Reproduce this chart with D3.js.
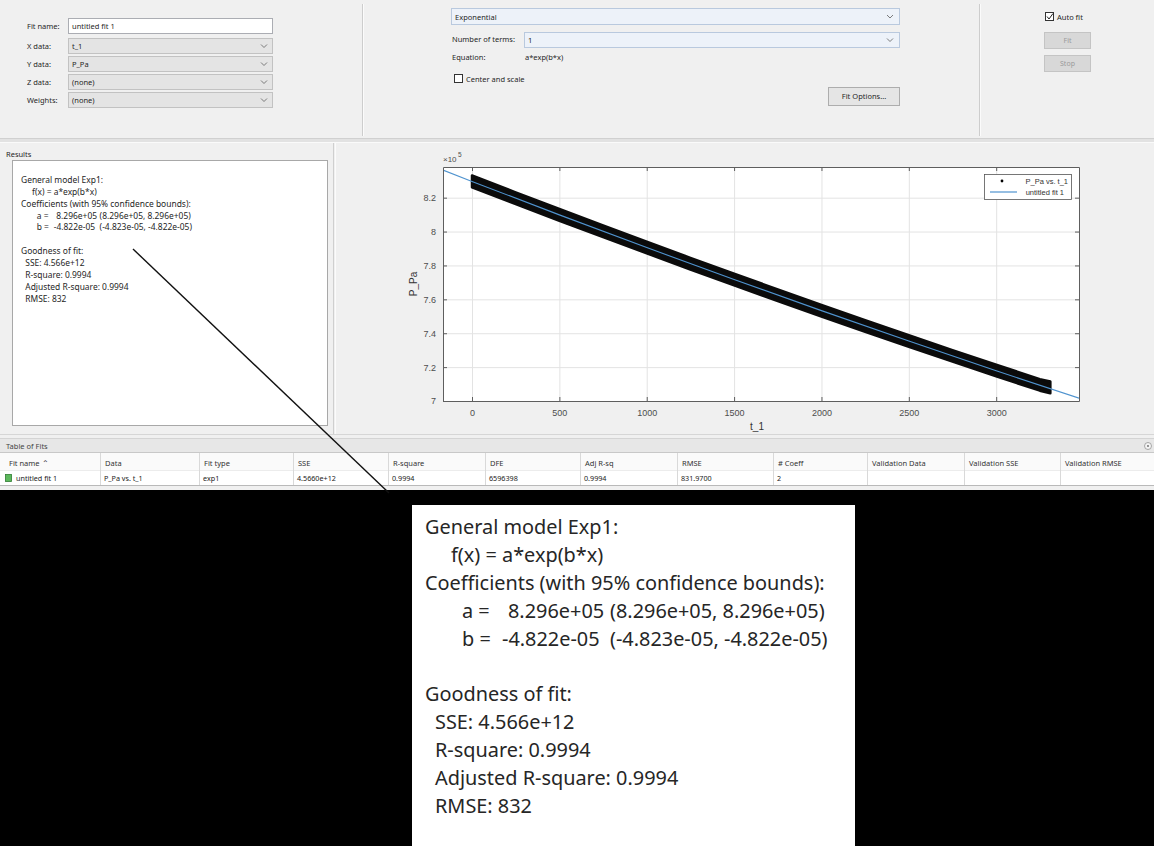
<!DOCTYPE html>
<html><head><meta charset="utf-8">
<script src="https://cdn.jsdelivr.net/npm/d3@7"></script>
<style>body{margin:0;background:#000;} svg{display:block}</style>
</head><body><svg id="c" width="1154" height="846"></svg>
<script>
const uiFont = "'Noto Sans','Open Sans',sans-serif";
const plotFont = "'Liberation Sans',Arial,sans-serif";

// ---------------- data ----------------
const tTicks = [0, 500, 1000, 1500, 2000, 2500, 3000];
const pTicks = [7, 7.2, 7.4, 7.6, 7.8, 8, 8.2];           // x10^5 Pa
const tDomain = [-166, 3474];
const pDomain = [7.0, 8.381];
// envelope of the dense scatter band (P_Pa vs. t_1)
const tData      = [0, 250, 500, 750, 1000, 1250, 1500, 1750, 2000, 2250, 2500, 2750, 3000, 3250, 3310];
const pDataUpper = [8.331, 8.231, 8.133, 8.036, 7.940, 7.845, 7.751, 7.659, 7.567, 7.477, 7.388, 7.300, 7.214, 7.129, 7.115];
const pDataLower = [8.261, 8.162, 8.064, 7.967, 7.871, 7.776, 7.683, 7.590, 7.499, 7.409, 7.320, 7.232, 7.145, 7.061, 7.046];
// fitted curve "untitled fit 1"
const tFit = [-166, 0, 500, 1000, 1500, 2000, 2500, 3000, 3474];
const pFit = [8.3627, 8.296, 8.0984, 7.9054, 7.7172, 7.5333, 7.3538, 7.1787, 7.0165];
const legendLabels = ["P_Pa vs. t_1", "untitled fit 1"];

const formLabels = ["Fit name:", "X data:", "Y data:", "Z data:", "Weights:"];
const formValues = ["untitled fit 1", "t_1", "P_Pa", "(none)", "(none)"];

const resultLines = [
  {t:"General model Exp1:", x:0},
  {t:"f(x) = a*exp(b*x)", x:26},
  {t:"Coefficients (with 95% confidence bounds):", x:0},
  null, null, null,
  {t:"Goodness of fit:", x:0},
  {t:"SSE: 4.566e+12", x:10},
  {t:"R-square: 0.9994", x:10},
  {t:"Adjusted R-square: 0.9994", x:10},
  {t:"RMSE: 832", x:10}
];
const coefRows = [
  {name:"a =", val:"8.296e+05", ci:"(8.296e+05, 8.296e+05)", vx:83},
  {name:"b =", val:"-4.822e-05", ci:"(-4.823e-05, -4.822e-05)", vx:77}
];

const tableHeaders = ["Fit name \u2303", "Data", "Fit type", "SSE", "R-square", "DFE", "Adj R-sq", "RMSE", "# Coeff", "Validation Data", "Validation SSE", "Validation RMSE"];
const tableRow = ["untitled fit 1", "P_Pa vs. t_1", "exp1", "4.5660e+12", "0.9994", "6596398", "0.9994", "831.9700", "2", "", "", ""];
const colLeft = [0, 100, 199, 293, 388, 485, 580, 677, 773, 867, 964, 1060];

// ---------------- drawing ----------------
const svg = d3.select('#c');
svg.append('rect').attr('width',1154).attr('height',490).attr('fill','#f0f0f0');
svg.append('rect').attr('y',490).attr('width',1154).attr('height',356).attr('fill','#000');

function txt(g, x, y, s, size, fill, anchor, font){
  return g.append('text').attr('x',x).attr('y',y).text(s)
    .attr('font-family', font||uiFont).attr('font-size',size)
    .attr('fill',fill||'#262626').attr('text-anchor',anchor||'start');
}
function chevron(g, x, cy){
  g.append('polyline').attr('points',`${x-3},${cy-1.5} ${x},${cy+1.5} ${x+3},${cy-1.5}`)
   .attr('fill','none').attr('stroke','#6d6d6d').attr('stroke-width',0.9);
}

// ---- top-left form
const ui = svg.append('g');
const rowCY = [26, 46, 64, 82, 100];
formLabels.forEach((l,i)=>{
  txt(ui, 27, rowCY[i]+2.7, l, 7.5);
  const isInput = i===0;
  ui.append('rect').attr('x',68.5).attr('y',rowCY[i]-7.5).attr('width',204).attr('height',15)
    .attr('fill', isInput ? '#ffffff' : '#e4e4e4').attr('stroke', isInput ? '#abadb3' : '#c2c2c2');
  txt(ui, 72, rowCY[i]+2.7, formValues[i], 7.5);
  if(!isInput) chevron(ui, 264, rowCY[i]);
});

// ---- middle form
ui.append('rect').attr('x',451.5).attr('y',8.5).attr('width',448).attr('height',16)
  .attr('fill','#edf2f9').attr('stroke','#b9c9de');
txt(ui, 455, 19.5, "Exponential", 7.5);
chevron(ui, 890, 16.5);
txt(ui, 452, 42, "Number of terms:", 7.5);
ui.append('rect').attr('x',524.5).attr('y',32.5).attr('width',375).attr('height',15)
  .attr('fill','#edf2f9').attr('stroke','#b9c9de');
txt(ui, 528, 42.5, "1", 7.5);
chevron(ui, 890, 40);
txt(ui, 452, 60, "Equation:", 7.5);
txt(ui, 525, 60, "a*exp(b*x)", 7.5);
ui.append('rect').attr('x',454.5).attr('y',74.5).attr('width',8).attr('height',8)
  .attr('fill','#fff').attr('stroke','#333');
txt(ui, 466, 81.5, "Center and scale", 7.5);
ui.append('rect').attr('x',828.5).attr('y',87.5).attr('width',71).attr('height',18)
  .attr('fill','#e5e5e5').attr('stroke','#adadad');
txt(ui, 864, 99, "Fit Options...", 7.5, '#262626', 'middle');

// ---- right controls
ui.append('rect').attr('x',1045.5).attr('y',12.5).attr('width',8).attr('height',8)
  .attr('fill','#fff').attr('stroke','#333');
ui.append('polyline').attr('points','1047,16.5 1049,19 1053,13.5').attr('fill','none')
  .attr('stroke','#222').attr('stroke-width',1);
txt(ui, 1057, 19.5, "Auto fit", 7.5);
[[32,"Fit"],[55,"Stop"]].forEach(([yy,l])=>{
  ui.append('rect').attr('x',1044.5).attr('y',yy+0.5).attr('width',46).attr('height',16)
    .attr('fill','#d8d8d8').attr('stroke','#c4c4c4');
  txt(ui, 1067.5, yy+11, l, 7, '#9a9a9a', 'middle');
});

// ---- separators
[362, 979].forEach(xx=>{
  ui.append('line').attr('x1',xx+0.5).attr('x2',xx+0.5).attr('y1',4).attr('y2',136).attr('stroke','#cdcdcd');
  ui.append('line').attr('x1',xx+1.5).attr('x2',xx+1.5).attr('y1',4).attr('y2',136).attr('stroke','#fbfbfb');
});
ui.append('rect').attr('x',0).attr('y',138).attr('width',1154).attr('height',4).attr('fill','#e2e2e2');
ui.append('line').attr('x1',0).attr('x2',1154).attr('y1',138.5).attr('y2',138.5).attr('stroke','#d0d0d0');
ui.append('line').attr('x1',0).attr('x2',1154).attr('y1',142.5).attr('y2',142.5).attr('stroke','#fafafa');
ui.append('line').attr('x1',333.5).attr('x2',333.5).attr('y1',143).attr('y2',434).attr('stroke','#cfcfcf');
ui.append('line').attr('x1',335.5).attr('x2',335.5).attr('y1',143).attr('y2',434).attr('stroke','#fbfbfb');
ui.append('line').attr('x1',0).attr('x2',1154).attr('y1',434.5).attr('y2',434.5).attr('stroke','#d6d6d6');

// ---- results panel
txt(ui, 6, 157, "Results", 7.5);
ui.append('rect').attr('x',12.5).attr('y',160.5).attr('width',315).attr('height',265)
  .attr('fill','#fff').attr('stroke','#a8a8a8');

// results text layout (in big-box units)
function drawResults(g, fs, lineH){
  resultLines.forEach((l,i)=>{ if(l) txt(g, l.x, i*lineH, l.t, fs); });
  coefRows.forEach((r,j)=>{
    const yy = (3+j)*lineH;
    txt(g, 37, yy, r.name, fs);
    txt(g, r.vx, yy, r.val, fs);
    txt(g, 185, yy, r.ci, fs);
  });
}
// measure font size so that the "Coefficients" line is 400 px wide in the big box
const probe = txt(svg, 0, -50, resultLines[2].t, 20);
const bigFs = 20 * 400 / probe.node().getComputedTextLength();
probe.remove();

// big zoomed box
svg.append('rect').attr('x',412).attr('y',505).attr('width',443).attr('height',341).attr('fill','#fff');
const big = svg.append('g').attr('transform','translate(425,534)');
drawResults(big, bigFs, 27.9);
// small box inside Results panel
const small = svg.append('g').attr('transform','translate(21,183) scale(0.425)');
drawResults(small, bigFs, 27.9);

// ---- plot
const X0 = 443, X1 = 1079, Y0 = 167, Y1 = 401;
const x = d3.scaleLinear().domain(tDomain).range([X0, X1]);
const y = d3.scaleLinear().domain(pDomain).range([Y1, Y0]);
const plot = svg.append('g');
plot.append('rect').attr('x',X0).attr('y',Y0).attr('width',X1-X0).attr('height',Y1-Y0).attr('fill','#fff');
// grid
plot.append('g').attr('transform',`translate(0,${Y1})`)
  .call(d3.axisBottom(x).tickValues(tTicks).tickSize(-(Y1-Y0)).tickFormat(''))
  .call(g=>{g.select('.domain').remove(); g.selectAll('line').attr('stroke','#e3e3e3');});
plot.append('g').attr('transform',`translate(${X0},0)`)
  .call(d3.axisLeft(y).tickValues(pTicks).tickSize(-(X1-X0)).tickFormat(''))
  .call(g=>{g.select('.domain').remove(); g.selectAll('line').attr('stroke','#e3e3e3');});

// data band
const clip = svg.append('clipPath').attr('id','pclip');
clip.append('rect').attr('x',X0).attr('y',Y0).attr('width',X1-X0).attr('height',Y1-Y0);
const inner = plot.append('g').attr('clip-path','url(#pclip)');
const bandPts = tData.map((t,i)=>({t, hi:pDataUpper[i], lo:pDataLower[i]}));
inner.append('path').datum(bandPts)
  .attr('d', d3.area().x(d=>x(d.t)).y0(d=>y(d.lo)).y1(d=>y(d.hi)))
  .attr('fill','#0b0b0b').attr('stroke','#0b0b0b').attr('stroke-width',2.5).attr('stroke-linejoin','round');
// fit line
inner.append('path').datum(tFit.map((t,i)=>[t,pFit[i]]))
  .attr('d', d3.line().x(d=>x(d[0])).y(d=>y(d[1])))
  .attr('fill','none').attr('stroke','#4f93cf').attr('stroke-width',1.1);

// axes
const axisColor = '#5e5e5e';
function styleAxis(g){
  g.select('.domain').attr('stroke',axisColor);
  g.selectAll('.tick line').attr('stroke',axisColor);
  g.selectAll('.tick text').attr('fill','#4d4d4d').attr('font-family',plotFont).attr('font-size',9);
}
plot.append('g').attr('transform',`translate(0,${Y1})`)
  .call(d3.axisBottom(x).tickValues(tTicks).tickSizeInner(-4).tickSizeOuter(0).tickPadding(9)
    .tickFormat(d3.format('d')))
  .call(styleAxis);
plot.append('g').attr('transform',`translate(0,${Y0})`)
  .call(d3.axisTop(x).tickValues(tTicks).tickSizeInner(-4).tickSizeOuter(0).tickFormat(''))
  .call(styleAxis);
plot.append('g').attr('transform',`translate(${X0},0)`)
  .call(d3.axisLeft(y).tickValues(pTicks).tickSizeInner(-4).tickSizeOuter(0).tickPadding(7)
    .tickFormat(d=>d3.format('~g')(d)))
  .call(styleAxis);
plot.append('g').attr('transform',`translate(${X1},0)`)
  .call(d3.axisRight(y).tickValues(pTicks).tickSizeInner(-4).tickSizeOuter(0).tickFormat(''))
  .call(styleAxis);

// exponent label
txt(plot, X0, 162, "\u00d710", 8, '#4d4d4d', 'start', plotFont);
txt(plot, X0+15, 157, "5", 6.5, '#4d4d4d', 'start', plotFont);
// axis labels
txt(plot, 757, 430, "t_1", 10, '#333', 'middle', plotFont);
plot.append('text').attr('transform','translate(417,284) rotate(-90)').text("P_Pa")
  .attr('font-family',plotFont).attr('font-size',10).attr('fill','#333').attr('text-anchor','middle');

// legend
const lg = plot.append('g');
lg.append('rect').attr('x',984.5).attr('y',174.5).attr('width',87).attr('height',25)
  .attr('fill','#fff').attr('stroke','#555').attr('stroke-width',0.8);
lg.append('circle').attr('cx',1002).attr('cy',181).attr('r',1.4).attr('fill','#000');
lg.append('line').attr('x1',990).attr('x2',1017).attr('y1',192).attr('y2',192)
  .attr('stroke','#4f93cf').attr('stroke-width',1.2);
txt(lg, 1068, 184, legendLabels[0], 7.5, '#333', 'end', plotFont);
txt(lg, 1064, 195, legendLabels[1], 7.5, '#333', 'end', plotFont);

// ---- table of fits
const tb = svg.append('g');
tb.append('rect').attr('x',0).attr('y',439).attr('width',1154).attr('height',13).attr('fill','#e7e7e7');
tb.append('line').attr('x1',0).attr('x2',1154).attr('y1',438.5).attr('y2',438.5).attr('stroke','#d4d4d4');
txt(tb, 6, 449, "Table of Fits", 7.5, '#444');
tb.append('circle').attr('cx',1148).attr('cy',446).attr('r',3.5).attr('fill','#f4f4f4').attr('stroke','#8a8a8a').attr('stroke-width',0.7);
tb.append('circle').attr('cx',1148).attr('cy',446).attr('r',0.9).attr('fill','#666');
tb.append('rect').attr('x',0).attr('y',452).attr('width',1154).attr('height',18).attr('fill','#fafafa');
tb.append('rect').attr('x',0).attr('y',470).attr('width',1154).attr('height',15).attr('fill','#ffffff');
tb.append('line').attr('x1',0).attr('x2',1154).attr('y1',452.5).attr('y2',452.5).attr('stroke','#c8c8c8');
tb.append('line').attr('x1',0).attr('x2',1154).attr('y1',470.5).attr('y2',470.5).attr('stroke','#ececec');
tb.append('line').attr('x1',0).attr('x2',1154).attr('y1',485.5).attr('y2',485.5).attr('stroke','#b9b9b9');
colLeft.forEach((cx,i)=>{
  if(i>0) tb.append('line').attr('x1',cx+0.5).attr('x2',cx+0.5).attr('y1',453).attr('y2',485).attr('stroke','#d9d9d9');
  txt(tb, i===0 ? 9 : cx+5, 466, tableHeaders[i], 7.5, '#333');
  if(tableRow[i]) txt(tb, i===0 ? 16 : cx+4, 481, tableRow[i], 7.2, '#222');
});
tb.append('rect').attr('x',5.5).attr('y',474.5).attr('width',6).attr('height',7)
  .attr('fill','#5cb85c').attr('stroke','#2f7d32').attr('stroke-width',0.8);

// ---- annotation connector
svg.append('line').attr('x1',133).attr('y1',249).attr('x2',389).attr('y2',493)
  .attr('stroke','#111').attr('stroke-width',1.4);
</script></body></html>
